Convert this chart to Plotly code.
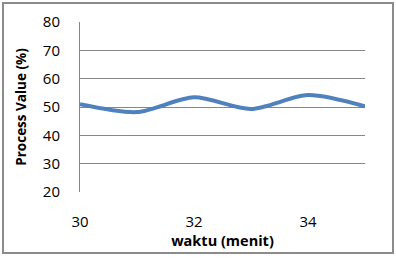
import plotly.graph_objects as go

# data
waktu = [30, 31, 32, 33, 34, 35]
process_value = [51.0, 48.2, 53.4, 49.3, 54.2, 50.2]
x_ticks = [30, 32, 34]
y_ticks = [20, 30, 40, 50, 60, 70, 80]

W, H = 396, 258
L, R, T, B = 80, 31, 22, 66
pw, ph = W - L - R, H - T - B

fig = go.Figure()
fig.add_trace(go.Scatter(
    x=waktu, y=process_value, mode="lines",
    line=dict(color="#4F81BD", width=4, shape="spline", smoothing=0.8),
    hoverinfo="skip",
))

font = "Open Sans, Liberation Sans, Arial, sans-serif"

fig.update_layout(
    width=W, height=H,
    margin=dict(l=L, r=R, t=T, b=B),
    paper_bgcolor="white", plot_bgcolor="white",
    showlegend=False,
    font=dict(family=font, size=15, color="black"),
    xaxis=dict(
        range=[30, 35], tickvals=x_ticks, showgrid=False, zeroline=False,
        showline=False, ticks="outside", ticklen=16, tickcolor="rgba(0,0,0,0)",
        tickfont=dict(size=15),
        title=dict(text="<b>waktu (menit)</b>", font=dict(size=14.5), standoff=0),
    ),
    yaxis=dict(
        range=[20, 80], tickvals=y_ticks, showgrid=True, gridcolor="#878787",
        gridwidth=1, zeroline=False, showline=True, linecolor="#878787",
        linewidth=1, ticks="outside", ticklen=16, tickcolor="rgba(0,0,0,0)",
        tickfont=dict(size=15),
        title=dict(text="<b>Process Value (%)</b>", font=dict(size=13.5), standoff=13),
    ),
)

# outer chart border
fig.add_shape(
    type="rect", xref="paper", yref="paper",
    x0=(3 - L) / pw, x1=(393 - L) / pw,
    y0=(T + ph - 253) / ph, y1=(T + ph - 3) / ph,
    line=dict(color="#8c8c8c", width=2), fillcolor="rgba(0,0,0,0)",
    layer="below",
)

fig.write_html("out.html")
